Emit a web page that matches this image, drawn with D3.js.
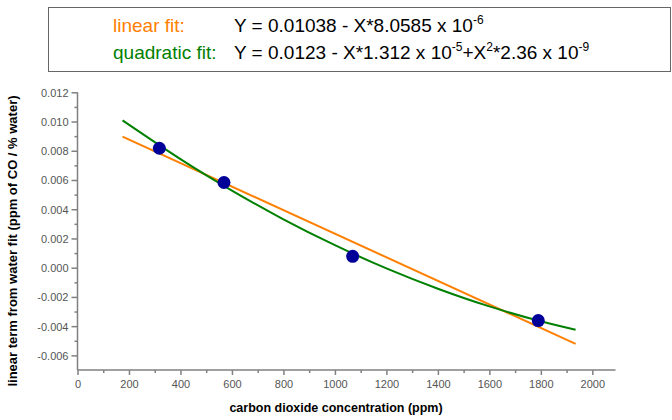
<!DOCTYPE html>
<html><head><meta charset="utf-8">
<script src="https://cdn.jsdelivr.net/npm/d3@7"></script>
<style>body{margin:0;background:#fff}svg{display:block}text{font-family:"Liberation Sans",Arial,sans-serif}</style>
</head><body><svg id="c" width="672" height="420"></svg>
<script>
// Data points (ppm CO2, linear term)
const pointX = [318, 569, 1069, 1790];
const pointY = [0.00817, 0.00583, 0.00078, -0.00362];
// Linear fit line
const linX = [175, 1935];
const linY = [0.00897, -0.00521];
// Quadratic fit curve
const quadX = [175, 400, 600, 800, 1000, 1200, 1400, 1600, 1800, 1935];
const quadY = [0.01008, 0.00743, 0.00528, 0.00331, 0.00154, -0.00005, -0.00144, -0.00265, -0.00367, -0.00425];
const xTicks = [0, 200, 400, 600, 800, 1000, 1200, 1400, 1600, 1800, 2000];
const yTicks = [0.012, 0.010, 0.008, 0.006, 0.004, 0.002, 0.000, -0.002, -0.004, -0.006];

const svg = d3.select("#c");
const x = d3.scaleLinear().domain([0, 2090]).range([77.5, 615.5]);
const y = d3.scaleLinear().domain([-0.007, 0.012]).range([370, 92.3]);
const axisCol = "#808080";

// legend box
svg.append("rect").attr("x", 48.5).attr("y", 7.5).attr("width", 622).attr("height", 64)
  .attr("fill", "none").attr("stroke", "#666").attr("stroke-width", 1);

function eq(g, xx, yy, parts) {
  const t = g.append("text").attr("x", xx).attr("y", yy).attr("font-size", 19).attr("fill", "#000");
  parts.forEach(p => {
    if (p.sup) t.append("tspan").attr("font-size", 12).attr("dy", -8).text(p.sup);
    else t.append("tspan").attr("dy", p.after ? 8 : 0).text(p.t);
  });
}
svg.append("text").attr("x", 113).attr("y", 32).attr("font-size", 19).attr("fill", "#ff8000").text("linear fit:");
svg.append("text").attr("x", 113).attr("y", 59).attr("font-size", 19).attr("fill", "#008000").text("quadratic fit:");
eq(svg, 234, 32, [{t: "Y = 0.01038 - X*8.0585 x 10"}, {sup: "-6"}]);
eq(svg, 234, 59, [{t: "Y = 0.0123 - X*1.312 x 10"}, {sup: "-5"}, {t: "+X", after: true}, {sup: "2"}, {t: "*2.36 x 10", after: true}, {sup: "-9"}]);

// axes
const gx = svg.append("g").attr("transform", "translate(0,370)");
gx.call(d3.axisBottom(x).tickValues(d3.range(0, 2100, 100)).tickSize(3).tickFormat(""));
gx.call(g => g.selectAll(".tick").filter(d => d % 200 === 0).select("line").attr("y2", 5));
gx.selectAll(".tick").filter(d => xTicks.includes(d)).append("text")
  .attr("y", 18).attr("fill", "#555").attr("font-size", 11).attr("text-anchor", "middle").text(d => d);
gx.select(".domain").attr("d", `M${x(0)},0H${x(2090)}`);

const gy = svg.append("g").attr("transform", "translate(77.5,0)");
const yMinor = d3.range(-7, 13).map(v => v / 1000);
gy.call(d3.axisLeft(y).tickValues(yMinor).tickSize(3).tickFormat(""));
const isMajor = d => yTicks.some(t => Math.abs(t - d) < 1e-9);
gy.selectAll(".tick").filter(isMajor).select("line").attr("x2", -6);
gy.selectAll(".tick").filter(isMajor).append("text")
  .attr("x", -9).attr("dy", "0.35em").attr("fill", "#555").attr("font-size", 11).attr("text-anchor", "end")
  .text(d => d3.format(".3f")(d).replace("−", "-"));
gy.select(".domain").attr("d", `M0,${y(0.012)}V${y(-0.007)}`);
svg.selectAll(".domain,.tick line").attr("stroke", axisCol).attr("stroke-width", 1.5);
gy.selectAll(".tick").filter(d => Math.round(d * 1000) === -7).remove();

// labels
svg.append("text").attr("x", 336).attr("y", 412).attr("text-anchor", "middle").attr("font-size", 12.5)
  .attr("font-weight", "bold").text("carbon dioxide concentration (ppm)");
svg.append("text").attr("transform", "translate(17,241) rotate(-90)").attr("text-anchor", "middle")
  .attr("font-size", 13).attr("font-weight", "bold").text("linear term from water fit (ppm of CO / % water)");

// fits
const line = d3.line().x(d => x(d[0])).y(d => y(d[1]));
svg.append("path").attr("d", line(linX.map((v, i) => [v, linY[i]]))).attr("fill", "none")
  .attr("stroke", "#ff8000").attr("stroke-width", 2);
svg.append("path").attr("d", line.curve(d3.curveNatural)(quadX.map((v, i) => [v, quadY[i]]))).attr("fill", "none")
  .attr("stroke", "#008000").attr("stroke-width", 2);

svg.selectAll("circle.pt").data(pointX.map((v, i) => [v, pointY[i]])).enter().append("circle")
  .attr("cx", d => x(d[0])).attr("cy", d => y(d[1])).attr("r", 6.5).attr("fill", "#000099");
</script></body></html>
